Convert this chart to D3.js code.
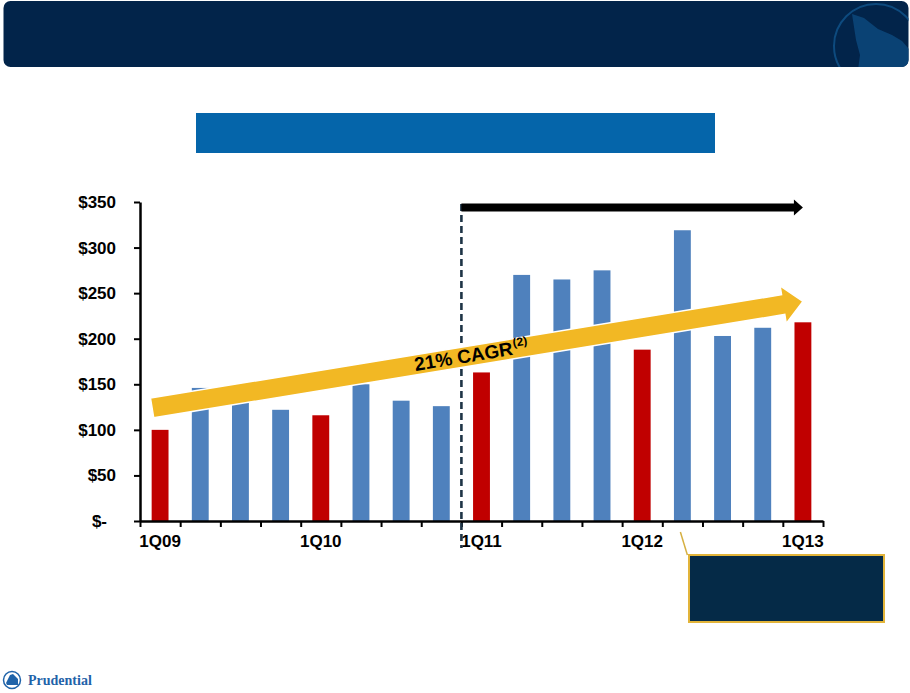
<!DOCTYPE html>
<html>
<head>
<meta charset="utf-8">
<script src="https://cdn.jsdelivr.net/npm/d3@7"></script>
<style>
  body { margin: 0; background: #fff; }
  svg { display: block; font-family: Arial, "Liberation Sans", sans-serif; }
</style>
</head>
<body>
<svg id="chart"></svg>
<script>
// quarterly values, $ millions
const quarters = ["1Q09","2Q09","3Q09","4Q09","1Q10","2Q10","3Q10","4Q10",
                  "1Q11","2Q11","3Q11","4Q11","1Q12","2Q12","3Q12","4Q12","1Q13"];
const sales = [100,146,135,122,116,150,132,126,163,270,265,275,188,319,203,212,218];
const yTicks = [0,50,100,150,200,250,300,350];
const xLabels = ["1Q09","1Q10","1Q11","1Q12","1Q13"];
const cagrLabel = "21% CAGR";
const cagrNote = "(2)";
const cagrFrom = 124, cagrTo = 241;   // trend arrow ends, in $

const W = 910, H = 693;
const svg = d3.select("#chart").attr("width", W).attr("height", H);

// header band
svg.append("rect")
  .attr("x", 3.5).attr("y", 1).attr("width", 905).attr("height", 66).attr("rx", 7)
  .attr("fill", "#02244a");

// faint rock logo in the header
const clip = svg.append("clipPath").attr("id", "hdr");
clip.append("rect").attr("x", 3.5).attr("y", 1).attr("width", 905).attr("height", 66).attr("rx", 7);
const logo = svg.append("g").attr("clip-path", "url(#hdr)");
logo.append("circle").attr("cx", 876).attr("cy", 46).attr("r", 42)
  .attr("fill", "none").attr("stroke", "#0d4a7e").attr("stroke-width", 2);
logo.append("path")
  .attr("d", "M852,14 L864,18 L878,29 L892,35 L902,41 L910,50 L910,70 L858,70 L860,55 L856,40 Z")
  .attr("fill", "#0a4274");

// title box
svg.append("rect")
  .attr("x", 196).attr("y", 113).attr("width", 519).attr("height", 40)
  .attr("fill", "#0565aa");

// scales
const x = d3.scaleBand().domain(quarters).range([140, 823])
  .paddingInner(0.58).paddingOuter(0.29);
const xe = d3.scaleLinear().domain([0, quarters.length]).range([140, 823]);
const y = d3.scaleLinear().domain([0, 350]).range([521, 202]);
const bw = x.bandwidth();
const cx = q => x(q) + bw / 2;

// bars
svg.append("g").selectAll("rect")
  .data(quarters)
  .enter()
  .append("rect")
  .attr("x", q => x(q))
  .attr("y", (q, i) => y(sales[i]))
  .attr("width", bw)
  .attr("height", (q, i) => y(0) - y(sales[i]))
  .attr("fill", q => q.startsWith("1Q") ? "#c00000" : "#4f81bd");

// y axis
const yAxis = svg.append("g").attr("transform", "translate(140,0)")
  .call(d3.axisLeft(y).tickValues(yTicks).tickSize(6).tickSizeOuter(0).tickPadding(17)
    .tickFormat(d => d ? "$" + d : "$-"));
yAxis.select(".domain").attr("stroke", "#000").attr("stroke-width", 2.5);
yAxis.selectAll(".tick line").attr("stroke", "#000").attr("stroke-width", 2);
yAxis.selectAll(".tick text")
  .attr("fill", "#000").attr("font-size", 17).attr("font-weight", "bold")
  .attr("font-family", "Arial, 'Liberation Sans', sans-serif")
  .attr("x", d => d ? -24 : -33);

// x axis, ticks on the quarter boundaries
const xAxis = svg.append("g").attr("transform", "translate(0,521)")
  .call(d3.axisBottom(xe).tickValues(d3.range(quarters.length + 1))
    .tickSize(6).tickSizeOuter(0).tickFormat(""));
xAxis.select(".domain").attr("stroke", "#000").attr("stroke-width", 2.5);
xAxis.selectAll(".tick line").attr("stroke", "#000").attr("stroke-width", 2);

svg.append("g").selectAll("text")
  .data(xLabels)
  .enter()
  .append("text")
  .attr("x", cx)
  .attr("y", 547)
  .attr("text-anchor", "middle")
  .attr("font-size", 17).attr("font-weight", "bold")
  .text(d => d);

// dashed divider before 1Q11
const split = xe(quarters.indexOf("1Q11"));
svg.append("line")
  .attr("x1", split).attr("x2", split).attr("y1", 204).attr("y2", 548)
  .attr("stroke", "#1e3446").attr("stroke-width", 2.6).attr("stroke-dasharray", "7,4");

// black period arrow
const ya = y(344), xt = cx("1Q13"), xh = xt - 9;
svg.append("polygon")
  .attr("points", [[split, ya - 4], [xh, ya - 4], [xh, ya - 8], [xt, ya],
                   [xh, ya + 8], [xh, ya + 4], [split, ya + 4]].join(" "))
  .attr("fill", "#000");

// CAGR trend arrow
const x0 = cx("1Q09") - 8, y0 = y(cagrFrom), x1 = cx("1Q13"), y1 = y(cagrTo);
const L = Math.hypot(x1 - x0, y1 - y0);
const ang = Math.atan2(y1 - y0, x1 - x0) * 180 / Math.PI;
const trend = svg.append("g").attr("transform", `translate(${x0},${y0}) rotate(${ang})`);
trend.append("polygon")
  .attr("points", [[0, -10], [L - 20, -10], [L - 20, -19], [L, 0],
                   [L - 20, 19], [L - 20, 10], [0, 10]].join(" "))
  .attr("fill", "#f2b824").attr("stroke", "#fff").attr("stroke-width", 1.5);
const t = trend.append("text")
  .attr("x", 266).attr("y", 6)
  .attr("font-size", 19).attr("font-weight", "bold").attr("fill", "#000")
  .text(cagrLabel);
t.append("tspan").attr("dx", 1).attr("dy", -8).attr("font-size", 12).text(cagrNote);

// callout under 2Q12
const cq = cx("2Q12");
svg.append("line")
  .attr("x1", cq - 2).attr("y1", 532).attr("x2", cq + 5).attr("y2", 555)
  .attr("stroke", "#d6b043").attr("stroke-width", 1.5);
svg.append("rect")
  .attr("x", 689).attr("y", 555).attr("width", 195).attr("height", 67)
  .attr("fill", "#052a47").attr("stroke", "#e2b43a").attr("stroke-width", 2);

// footer logo
svg.append("circle").attr("cx", 12).attr("cy", 680).attr("r", 8.5)
  .attr("fill", "#fff").attr("stroke", "#1f63a9").attr("stroke-width", 1.5);
svg.append("path")
  .attr("d", "M6,683 L10,675 L13,674 L18,679 L18,685 L7,685 Z")
  .attr("fill", "#1f63a9");
svg.append("text")
  .attr("x", 28).attr("y", 685)
  .attr("font-family", "'Liberation Serif', 'DejaVu Serif', serif")
  .attr("font-size", 14).attr("font-weight", "bold").attr("fill", "#1f63a9")
  .text("Prudential");
</script>
</body>
</html>
